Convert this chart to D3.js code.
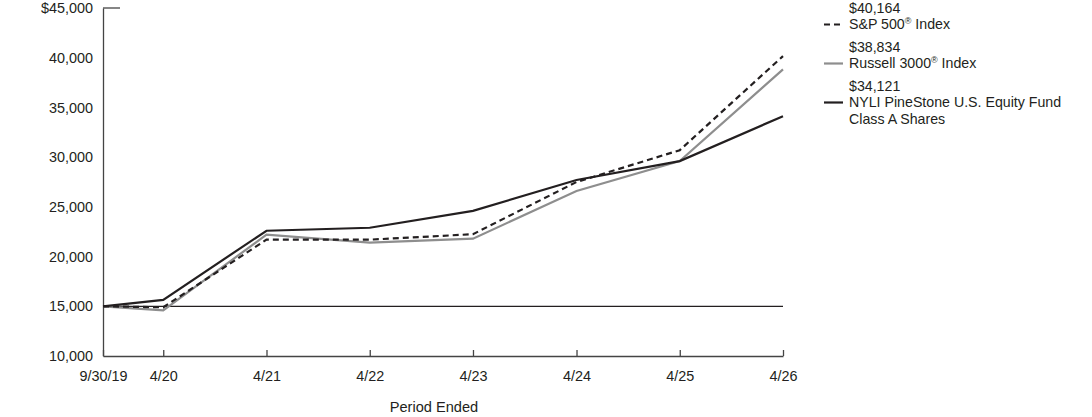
<!DOCTYPE html>
<html>
<head>
<meta charset="utf-8">
<script src="https://cdn.jsdelivr.net/npm/d3@7"></script>
<style>
  body { margin: 0; background: #fff; }
  svg text { font-family: "Liberation Sans", Arial, sans-serif; fill: #231f20; }
</style>
</head>
<body>
<svg id="mainCanvas" width="1092" height="417"></svg>
<script>
// period end dates and tick labels
const dates = ["2019-09-30", "2020-04-30", "2021-04-30", "2022-04-30", "2023-04-30", "2024-04-30", "2025-04-30", "2026-04-30"];
const tickLabels = ["9/30/19", "4/20", "4/21", "4/22", "4/23", "4/24", "4/25", "4/26"];

// series values (hypothetical $15,000 investment)
const spValues = [15000, 14900, 21700, 21700, 22250, 27500, 30700, 40164];
const russellValues = [15000, 14600, 22200, 21400, 21800, 26600, 29600, 38834];
const fundValues = [15000, 15650, 22600, 22900, 24600, 27700, 29600, 34121];

const yTicks = [10000, 15000, 20000, 25000, 30000, 35000, 40000, 45000];

const series = [
    { name: "S&P 500", sup: "®", rest: " Index", extra: null, end: "$40,164", values: spValues, color: "#231f20", dash: "6,4" },
    { name: "Russell 3000", sup: "®", rest: " Index", extra: null, end: "$38,834", values: russellValues, color: "#8e8e8e", dash: null },
    { name: "NYLI PineStone U.S. Equity Fund", sup: "", rest: "", extra: "Class A Shares", end: "$34,121", values: fundValues, color: "#231f20", dash: null }
];

const svg = d3.select("svg#mainCanvas");
const parse = d3.timeParse("%Y-%m-%d");
const xDates = dates.map(parse);

const x = d3.scaleTime()
    .domain([xDates[0], xDates[xDates.length - 1]])
    .range([103, 783]);
const y = d3.scaleLinear()
    .domain([10000, 45000])
    .range([356, 8]);

const axisColor = "#444";
const fontSize = "14.4px";
const legendFont = "14.2px";

// y axis
const yAxis = svg.append("g")
    .attr("transform", "translate(103,0)")
    .call(d3.axisLeft(y).tickValues(yTicks).tickSize(0).tickPadding(10)
        .tickFormat(function (d) { return d === 45000 ? "$45,000" : d3.format(",")(d); }));
yAxis.select(".domain").attr("stroke", axisColor).attr("stroke-width", 1.3);
yAxis.selectAll("text").attr("font-size", fontSize).attr("font-family", "Liberation Sans, Arial, sans-serif").attr("fill", "#231f20");

// top cap line at $45,000
svg.append("line")
    .attr("x1", x.range()[0]).attr("x2", x.range()[0] + 17)
    .attr("y1", y(45000)).attr("y2", y(45000))
    .attr("stroke", axisColor).attr("stroke-width", 1.3);

// x axis
const xAxis = svg.append("g")
    .attr("transform", "translate(0," + y(10000) + ")")
    .call(d3.axisBottom(x).tickValues(xDates).tickSize(-6).tickSizeOuter(0).tickPadding(15)
        .tickFormat(function (d, i) { return tickLabels[i]; }));
xAxis.select(".domain").attr("stroke", axisColor).attr("stroke-width", 1.3);
xAxis.selectAll(".tick line").attr("stroke", axisColor).attr("stroke-width", 1.3);
xAxis.selectAll("text").attr("font-size", fontSize).attr("font-family", "Liberation Sans, Arial, sans-serif").attr("fill", "#231f20");

// reference line at $15,000
svg.append("line")
    .attr("x1", x.range()[0]).attr("x2", x.range()[1])
    .attr("y1", y(15000)).attr("y2", y(15000))
    .attr("stroke", "#231f20").attr("stroke-width", 1.2);

svg.append("text")
    .attr("x", 434).attr("y", 412)
    .attr("text-anchor", "middle")
    .attr("font-size", "14.6px")
    .text("Period Ended");

// lines - draw gray first, then dashed, then fund on top
const line = d3.line()
    .x(function (d, i) { return x(xDates[i]); })
    .y(function (d) { return y(d); });

[series[1], series[0], series[2]].forEach(function (s) {
    svg.append("path")
        .datum(s.values)
        .attr("d", line)
        .attr("fill", "none")
        .attr("stroke", s.color)
        .attr("stroke-width", 2.2)
        .attr("stroke-dasharray", s.dash);
});

// legend
const legendY = [13, 52, 91];
series.forEach(function (s, i) {
    const g = svg.append("g").attr("transform", "translate(0," + legendY[i] + ")");
    g.append("text").attr("x", 849).attr("y", 0).attr("font-size", legendFont).text(s.end);
    g.append("line")
        .attr("x1", 824).attr("x2", 843)
        .attr("y1", 11.5).attr("y2", 11.5)
        .attr("stroke", s.color).attr("stroke-width", 2.2)
        .attr("stroke-dasharray", s.dash ? "6,4" : null);
    const t = g.append("text").attr("x", 849).attr("y", 16.3).attr("font-size", legendFont);
    t.append("tspan").text(s.name);
    if (s.sup) {
        t.append("tspan").attr("font-size", "9px").attr("dy", -5).text(s.sup);
        t.append("tspan").attr("dy", 5).text(s.rest);
    }
    if (s.extra) {
        g.append("text").attr("x", 849).attr("y", 32.6).attr("font-size", legendFont).text(s.extra);
    }
});
</script>
</body>
</html>
